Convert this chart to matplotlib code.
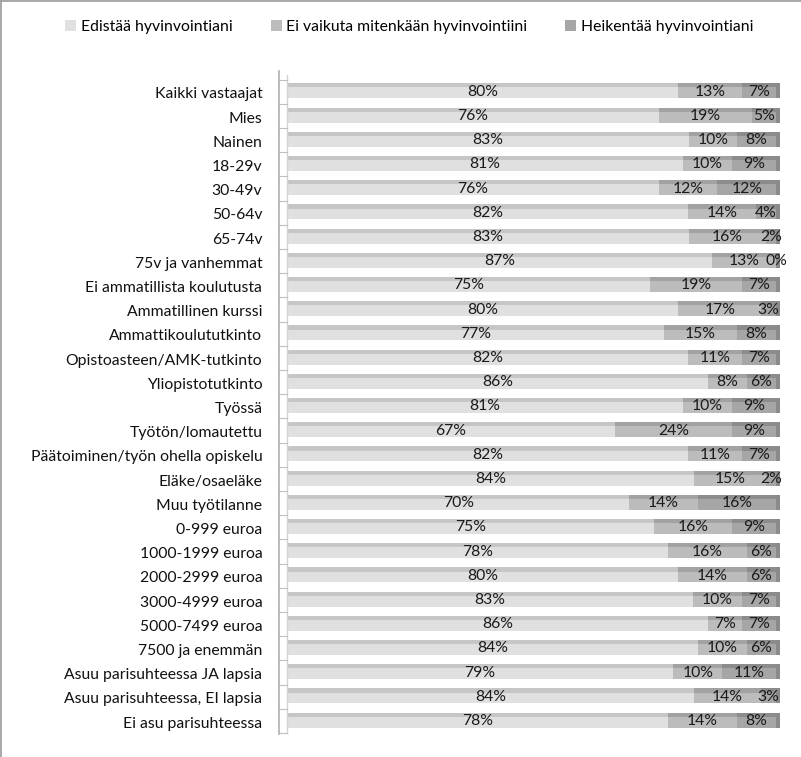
import numpy as np
import matplotlib
matplotlib.use("Agg")
import matplotlib.pyplot as plt
from matplotlib.lines import Line2D
from matplotlib.patches import Patch

categories = [
    "Kaikki vastaajat", "Mies", "Nainen", "18-29v", "30-49v", "50-64v", "65-74v",
    "75v ja vanhemmat", "Ei ammatillista koulutusta", "Ammatillinen kurssi",
    "Ammattikoulututkinto", "Opistoasteen/AMK-tutkinto", "Yliopistotutkinto",
    "Työssä", "Työtön/lomautettu", "Päätoiminen/työn ohella opiskelu",
    "Eläke/osaeläke", "Muu työtilanne", "0-999 euroa", "1000-1999 euroa",
    "2000-2999 euroa", "3000-4999 euroa", "5000-7499 euroa", "7500 ja enemmän",
    "Asuu parisuhteessa JA lapsia", "Asuu parisuhteessa, EI lapsia",
    "Ei asu parisuhteessa",
]
edistaa = [80, 76, 83, 81, 76, 82, 83, 87, 75, 80, 77, 82, 86, 81, 67, 82, 84, 70,
           75, 78, 80, 83, 86, 84, 79, 84, 78]
ei_vaikuta = [13, 19, 10, 10, 12, 14, 16, 13, 19, 17, 15, 11, 8, 10, 24, 11, 15, 14,
              16, 16, 14, 10, 7, 10, 10, 14, 14]
heikentaa = [7, 5, 8, 9, 12, 4, 2, 0, 7, 3, 8, 7, 6, 9, 9, 7, 2, 16,
             9, 6, 6, 7, 7, 6, 11, 3, 8]
series_names = ["Edistää hyvinvointiani", "Ei vaikuta mitenkään hyvinvointiini",
                "Heikentää hyvinvointiani"]

plt.rcParams['font.family'] = ['Lato', 'DejaVu Sans']

data = np.array([edistaa, ei_vaikuta, heikentaa], dtype=float)
shares = data / data.sum(axis=0) * 100
face = ["#e0e0e0", "#bcbcbc", "#a6a6a6"]
top = ["#c6c6c6", "#a2a2a2", "#8c8c8c"]

fig = plt.figure(figsize=(8.01, 7.57), dpi=100)
ax = fig.add_axes([279 / 801, 0.030, 511 / 801, 0.876])
n = len(categories)
y = np.arange(n)
h = 0.45
th = 0.17
left = np.zeros(n)
for k in range(3):
    ax.barh(y, shares[k], left=left, height=h, color=face[k], linewidth=0)
    ax.barh(y - h / 2 - th / 2, shares[k], left=left, height=th, color=top[k], linewidth=0)
    for i in range(n):
        ax.text(left[i] + shares[k][i] / 2, y[i] - 0.05, f"{int(data[k][i])}%",
                ha="center", va="center", fontsize=11.3, color="#1a1a1a")
    left += shares[k]
# right end caps
ax.barh(y - th / 2, [0.8] * n, left=left, height=h + th, color="#8a8a8a", linewidth=0)

ax.set_xlim(-1.64, 102.86)
ax.set_ylim(n - 0.5, -0.9)
ax.set_yticks(y)
ax.set_yticklabels(categories, fontsize=11.3, color="#111111")
ax.tick_params(axis="y", length=0, pad=12)
ax.set_xticks([])
for s in ["top", "right", "bottom"]:
    ax.spines[s].set_visible(False)
ax.spines["left"].set_color("#b0b0b0")
ax.spines["left"].set_linewidth(1.2)
ax.plot([0, 0], [-0.75, n - 0.55], color="#d4d4d4", lw=1.0, clip_on=False)
for yy in np.arange(n + 1) - 0.55:
    ax.plot([-1.64, 0], [yy, yy], color="#c0c0c0", lw=0.8, clip_on=False)

handles = [Patch(facecolor=face[k], edgecolor="none") for k in range(3)]
fig.legend(handles, series_names, loc="center", bbox_to_anchor=(0.511, 1 - 27 / 757),
           ncol=3, frameon=False, fontsize=11.3, handlelength=0.7, handleheight=0.7,
           handletextpad=0.3, columnspacing=2.4)

# figure border (left and top)
fig.add_artist(Line2D([0.001, 0.001], [0, 0.999], color="#9a9a9a", lw=1.2))
fig.add_artist(Line2D([0.001, 1], [0.999, 0.999], color="#9a9a9a", lw=1.2))

fig.savefig("out.png", dpi=100)
